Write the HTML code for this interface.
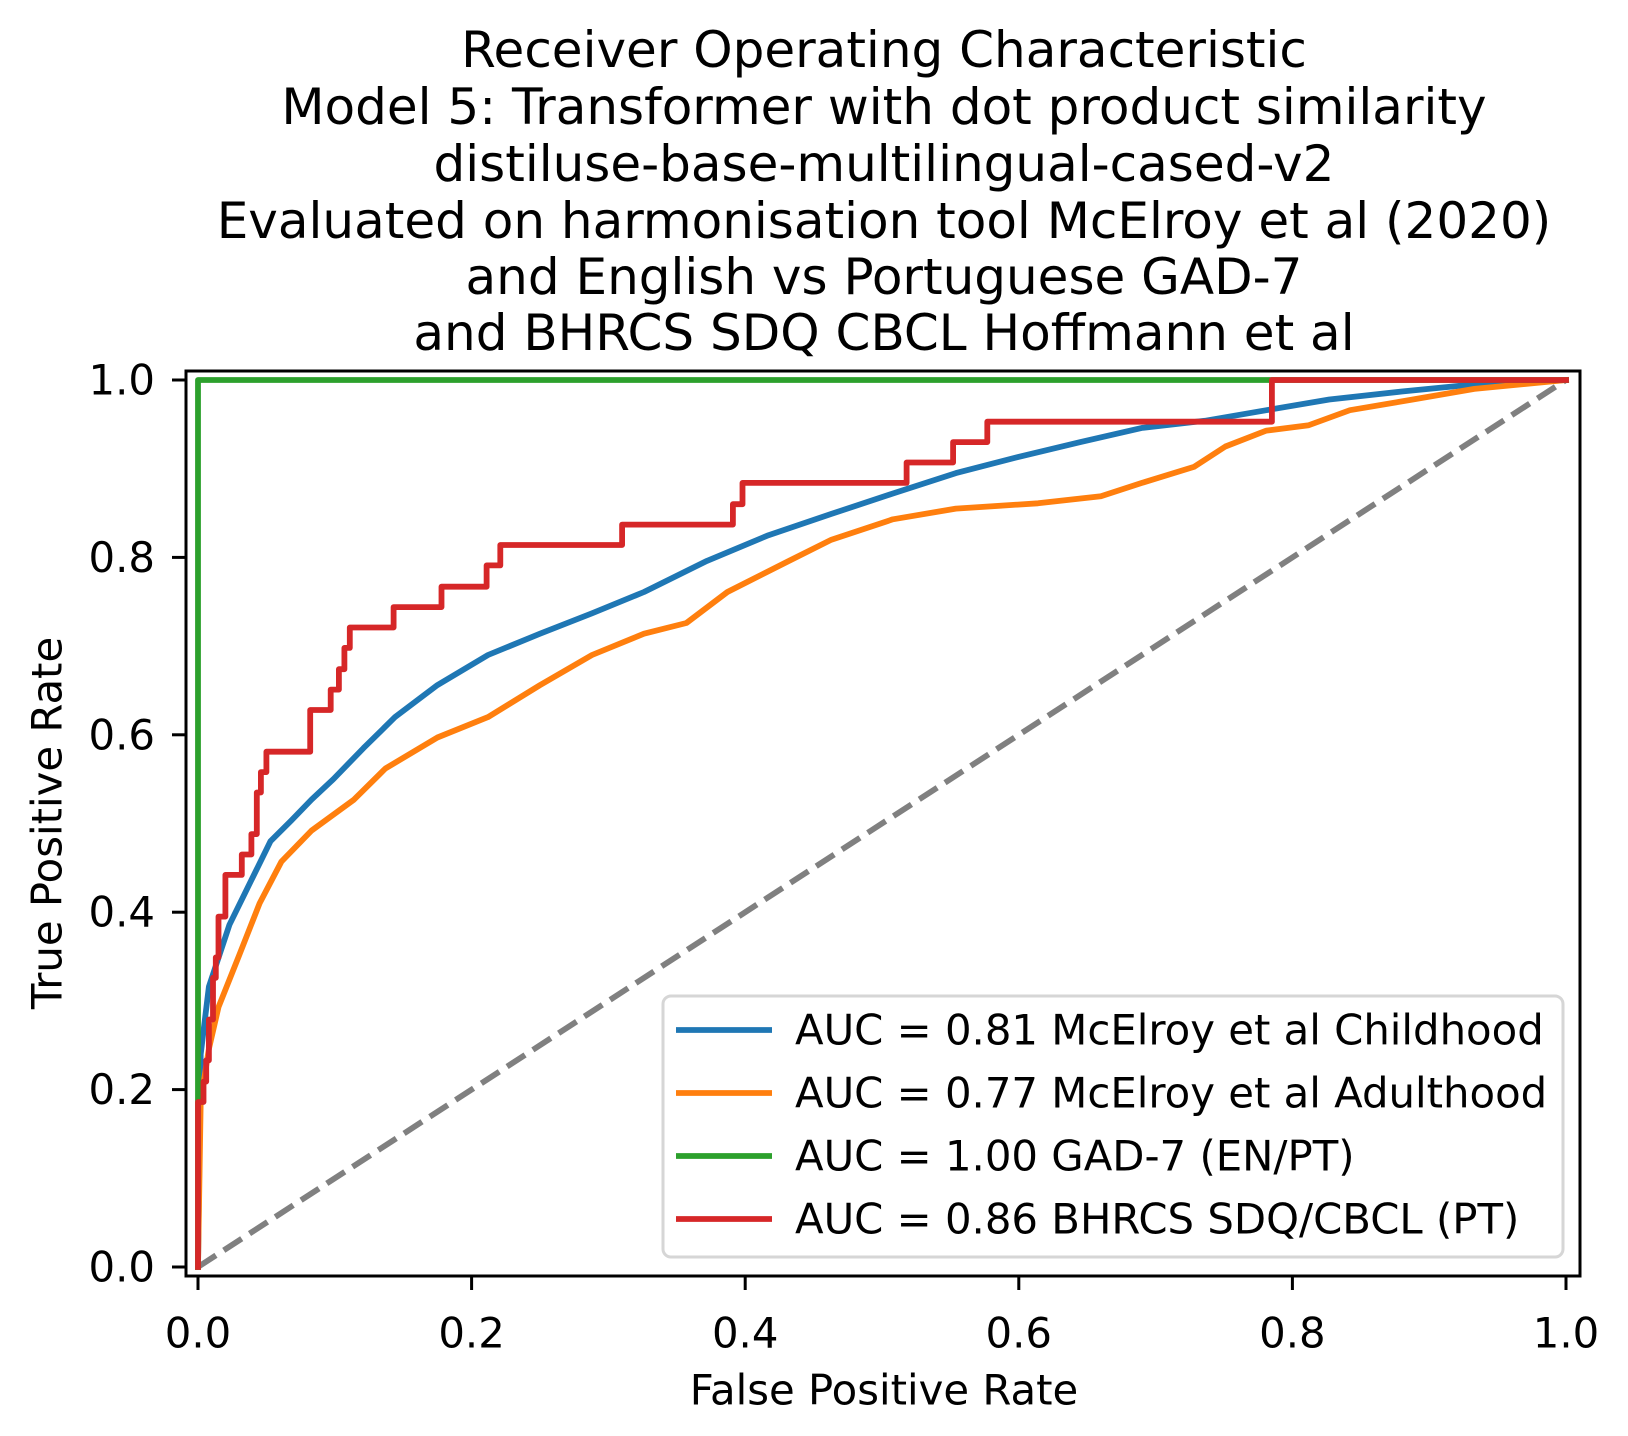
<!DOCTYPE html>
<html><head><meta charset="utf-8"><style>
html,body{margin:0;padding:0;background:#fff;}
svg{display:block;font-family:"DejaVu Sans","Liberation Sans",sans-serif;}
</style></head><body>
<svg id="chart" width="1628" height="1436" viewBox="0 0 1628 1436" xmlns="http://www.w3.org/2000/svg">
<rect width="1628" height="1436" fill="#fff"/>
<g font-size="50" text-anchor="middle" fill="#000">
<text x="884" y="50" dominant-baseline="central">Receiver Operating Characteristic</text>
<text x="884" y="107" dominant-baseline="central">Model 5: Transformer with dot product similarity</text>
<text x="884" y="164" dominant-baseline="central">distiluse-base-multilingual-cased-v2</text>
<text x="884" y="221" dominant-baseline="central">Evaluated on harmonisation tool McElroy et al (2020)</text>
<text x="884" y="277" dominant-baseline="central">and English vs Portuguese GAD-7</text>
<text x="884" y="333" dominant-baseline="central">and BHRCS SDQ CBCL Hoffmann et al</text>
</g>
<g id="plot"></g>
<g id="ticks"></g>
<rect x="186" y="371" width="1394" height="905" fill="none" stroke="#000" stroke-width="3"/>
<text x="884" y="1390" font-size="41.8" text-anchor="middle" dominant-baseline="central">False Positive Rate</text>
<text x="47" y="823" font-size="41.8" text-anchor="middle" dominant-baseline="central" transform="rotate(-90 47 823)">True Positive Rate</text>
<g id="legend"></g>
</svg>
<script>
const xTicks = [0, 0.2, 0.4, 0.6, 0.8, 1.0];
const yTicks = [0, 0.2, 0.4, 0.6, 0.8, 1.0];
const tickLabels = ["0.0","0.2","0.4","0.6","0.8","1.0"];
const blueFpr = [0,0.002,0.008,0.023,0.038,0.053,0.068,0.083,0.099,0.121,0.144,0.175,0.212,0.25,0.288,0.326,0.372,0.417,0.463,0.508,0.554,0.599,0.645,0.69,0.736,0.781,0.827,0.88,0.933,1];
const blueTpr = [0,0.24,0.316,0.386,0.433,0.48,0.503,0.527,0.55,0.585,0.62,0.656,0.69,0.714,0.737,0.761,0.796,0.825,0.849,0.872,0.895,0.913,0.93,0.946,0.954,0.966,0.978,0.987,0.995,1];
const orangeFpr = [0,0.002,0.008,0.015,0.03,0.045,0.061,0.083,0.114,0.137,0.175,0.212,0.25,0.288,0.326,0.357,0.387,0.432,0.463,0.508,0.554,0.614,0.66,0.69,0.728,0.751,0.781,0.812,0.842,0.888,0.933,1];
const orangeTpr = [0,0.187,0.246,0.293,0.351,0.41,0.457,0.492,0.527,0.562,0.597,0.62,0.656,0.69,0.714,0.726,0.761,0.796,0.82,0.843,0.855,0.861,0.869,0.884,0.902,0.925,0.943,0.949,0.966,0.978,0.99,1];
const greenFpr = [0,0,1];
const greenTpr = [0,1,1];
const redFpr = [0,0,0.004,0.006,0.008,0.011,0.013,0.015,0.02,0.032,0.039,0.043,0.046,0.05,0.082,0.097,0.103,0.107,0.111,0.143,0.178,0.211,0.221,0.31,0.391,0.398,0.518,0.552,0.577,0.785,1.0];
const redTpr = [0,0.186,0.209,0.233,0.279,0.326,0.349,0.395,0.442,0.465,0.488,0.535,0.558,0.581,0.628,0.651,0.674,0.698,0.721,0.744,0.767,0.791,0.814,0.837,0.86,0.884,0.907,0.93,0.953,1.0,1.0];
const legendLabels = ["AUC = 0.81 McElroy et al Childhood","AUC = 0.77 McElroy et al Adulthood","AUC = 1.00 GAD-7 (EN/PT)","AUC = 0.86 BHRCS SDQ/CBCL (PT)"];
const colors = ["#1f77b4","#ff7f0e","#2ca02c","#d62728"];

const NS = "http://www.w3.org/2000/svg";
function xS(v){ return 198 + v*1368; }
function yS(v){ return 1267 - v*887; }
function mk(tag, attrs, parent){ const e=document.createElementNS(NS,tag); for(const k in attrs) e.setAttribute(k,attrs[k]); parent.appendChild(e); return e; }
const plot = document.getElementById('plot');
const ticks = document.getElementById('ticks');

const diag = mk('line',{x1:xS(0),y1:yS(0),x2:xS(1),y2:yS(1),stroke:'#808080','stroke-width':5.8,'stroke-dasharray':'21.4 9.3'},plot);



function linePath(fx, ty){ return fx.map((f,i)=>(i?'L':'M')+xS(f).toFixed(1)+' '+yS(ty[i]).toFixed(1)).join(' '); }
function stepPath(fx, ty){
  let d='M'+xS(fx[0])+' '+yS(ty[0]);
  for(let i=1;i<fx.length;i++){ d+=' L'+xS(fx[i]).toFixed(1)+' '+yS(ty[i-1]).toFixed(1)+' L'+xS(fx[i]).toFixed(1)+' '+yS(ty[i]).toFixed(1); }
  return d;
}
const series = [
  [linePath(blueFpr,blueTpr), colors[0]],
  [linePath(orangeFpr,orangeTpr), colors[1]],
  [linePath(greenFpr,greenTpr), colors[2]],
  [stepPath(redFpr,redTpr), colors[3]]
];
const seriesNames = ['roc-curve-childhood','roc-curve-adulthood','roc-curve-gad7','roc-curve-bhrcs'];
series.forEach((s,i)=>{
  const p = mk('path',{d:s[0],fill:'none',stroke:s[1],'stroke-width':5.8,'stroke-linejoin':'round','stroke-linecap':'square'},plot);
  
  
});

xTicks.forEach((v,i)=>{
  const t = mk('line',{x1:xS(v),y1:1276,x2:xS(v),y2:1290,stroke:'#000','stroke-width':3},ticks);
  
  
  const l = mk('text',{x:xS(v),y:1333,'font-size':41.8,'text-anchor':'middle','dominant-baseline':'central'},ticks);
  l.textContent = tickLabels[i];
  
  
});
yTicks.forEach((v,i)=>{
  const t = mk('line',{x1:172,y1:yS(v),x2:186,y2:yS(v),stroke:'#000','stroke-width':3},ticks);
  
  
  const l = mk('text',{x:155,y:yS(v),'font-size':41.8,'text-anchor':'end','dominant-baseline':'central'},ticks);
  l.textContent = tickLabels[i];
  
  
});

const lg = document.getElementById('legend');


mk('rect',{x:663,y:996,width:900,height:261,rx:8,fill:'#fff','fill-opacity':0.8,stroke:'#d6d6d6','stroke-width':3},lg);
legendLabels.forEach((lab,i)=>{
  const y = 1030 + i*63;
  const ln = mk('line',{x1:676,y1:y,x2:772,y2:y,stroke:colors[i],'stroke-width':5.8},lg);
  
  
  const tx = mk('text',{x:795,y:y,'font-size':41.8,'dominant-baseline':'central'},lg);
  tx.textContent = lab;
  
  
});
</script>
</body></html>
